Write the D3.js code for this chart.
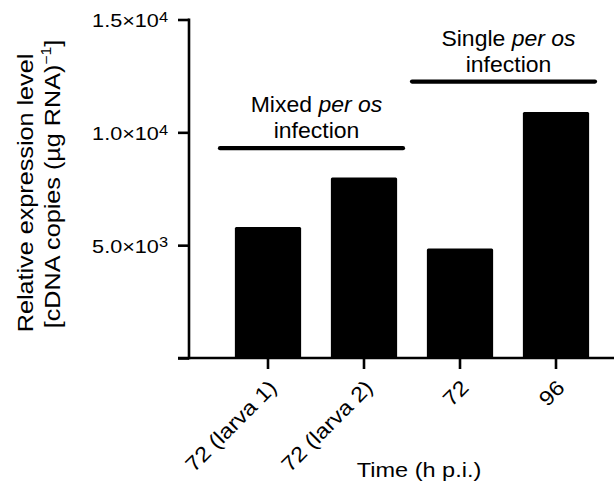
<!DOCTYPE html>
<html><head><meta charset="utf-8">
<script src="https://cdn.jsdelivr.net/npm/d3@7/dist/d3.min.js"></script>
<style>
body{margin:0;background:#fff}
text{font-family:"Liberation Sans",Arial,Helvetica,sans-serif;fill:#000}
</style>
</head><body>
<svg id="chart" width="614" height="485"></svg>
<script>
// ---- data ----
const categories = ["72 (larva 1)", "72 (larva 2)", "72", "96"];
const values = [5800, 8000, 4850, 10900];
const yTicks = [0, 5000, 10000, 15000];
const yTickMantissa = ["", "5.0", "1.0", "1.5"];
const yTickExponent = ["", "3", "4", "4"];
const groupNames = ["Mixed", "Single"];
const groupItalic = ["per os", "per os"];
const groupSecondLine = ["infection", "infection"];
const groupFirstCat = [0, 2];
const groupLastCat = [1, 3];
const groupValueLevel = [9300, 12250];
const yTitleLine1 = "Relative expression level";
const yTitleLine2 = ["[cDNA copies (µg RNA)", "\u22121", "]"];
const xTitle = "Time (h p.i.)";

// ---- layout ----
const svg = d3.select("#chart");
const y = d3.scaleLinear().domain([0, 15000]).range([358, 19.5]);
const x = d3.scaleBand().domain(categories).range([220, 604])
  .paddingInner(0.31).paddingOuter(0.155);
const SX = 1.12;

// bars
svg.append("g").selectAll("rect").data(categories).join("rect")
  .attr("x", d => x(d))
  .attr("y", (d, i) => y(values[i]))
  .attr("width", x.bandwidth())
  .attr("height", (d, i) => y(0) - y(values[i]))
  .attr("rx", 1.5)
  .attr("fill", "#000");

// y axis
const yAxis = svg.append("g").attr("transform", "translate(189,0)")
  .call(d3.axisLeft(y).tickValues(yTicks).tickSize(11).tickSizeOuter(0).tickFormat(""));
yAxis.select(".domain").attr("stroke-width", 2.6).attr("d", `M0,${y(15000)-1}V${y(0)+1.3}`);
yAxis.selectAll(".tick line").attr("stroke-width", 2.6);

// y tick labels
const yl = svg.append("g");
yTicks.forEach((t, i) => {
  if (!yTickMantissa[i]) return;
  const tx = yl.append("text")
    .attr("transform", `translate(168,${y(t) + 7.8}) scale(1.17,1)`)
    .attr("text-anchor", "end").attr("font-size", 18.5);
  tx.append("tspan").text(yTickMantissa[i] + "\u00d710");
  tx.append("tspan").attr("font-size", 14).attr("dy", -5.5).text(yTickExponent[i]);
});

// x axis
const xAxis = svg.append("g").attr("transform", `translate(0,${y(0)})`)
  .call(d3.axisBottom(x).tickSize(11).tickSizeOuter(0).tickFormat(""));
xAxis.select(".domain").attr("stroke-width", 2.6).attr("d", "M178,0H614");
xAxis.selectAll(".tick line").attr("stroke-width", 2.6);

// x tick labels
svg.append("g").selectAll("text").data(categories).join("text")
  .attr("transform", d => `translate(${x(d) + x.bandwidth() / 2 + 10},389) rotate(-45) scale(${SX},1)`)
  .attr("text-anchor", "end").attr("font-size", 21)
  .text(d => d);

// group bars and labels
groupNames.forEach((g, i) => {
  const c0 = categories[groupFirstCat[i]], c1 = categories[groupLastCat[i]];
  const x0 = x(c0) + x.bandwidth() / 2 - 48;
  const x1 = x(c1) + x.bandwidth() / 2 + 39;
  const ly = y(groupValueLevel[i]);
  svg.append("line").attr("x1", x0).attr("x2", x1).attr("y1", ly).attr("y2", ly)
    .attr("stroke", "#000").attr("stroke-width", 4.2).attr("stroke-linecap", "round");
  const cx = (x0 + x1) / 2 + 5;
  const t1 = svg.append("text").attr("transform", `translate(${cx},${ly - 36}) scale(1.07,1)`)
    .attr("text-anchor", "middle").attr("font-size", 21.5);
  t1.append("tspan").text(g + " ");
  t1.append("tspan").attr("font-style", "italic").text(groupItalic[i]);
  svg.append("text").attr("transform", `translate(${cx},${ly - 10}) scale(1.07,1)`)
    .attr("text-anchor", "middle").attr("font-size", 21.5).text(groupSecondLine[i]);
});

// axis titles
svg.append("text").attr("transform", `translate(419,477) scale(${SX},1)`)
  .attr("text-anchor", "middle").attr("font-size", 21).text(xTitle);

svg.append("text").attr("transform", `translate(33,193) rotate(-90) scale(${SX},1)`)
  .attr("text-anchor", "middle").attr("font-size", 22.5).text(yTitleLine1);
const yt2 = svg.append("text").attr("transform", `translate(60,184) rotate(-90) scale(${SX},1)`)
  .attr("text-anchor", "middle").attr("font-size", 22.5);
yt2.append("tspan").text(yTitleLine2[0]);
yt2.append("tspan").attr("font-size", 14).attr("dy", -9).text(yTitleLine2[1]);
yt2.append("tspan").attr("dy", 9).text(yTitleLine2[2]);
</script>
</body></html>
